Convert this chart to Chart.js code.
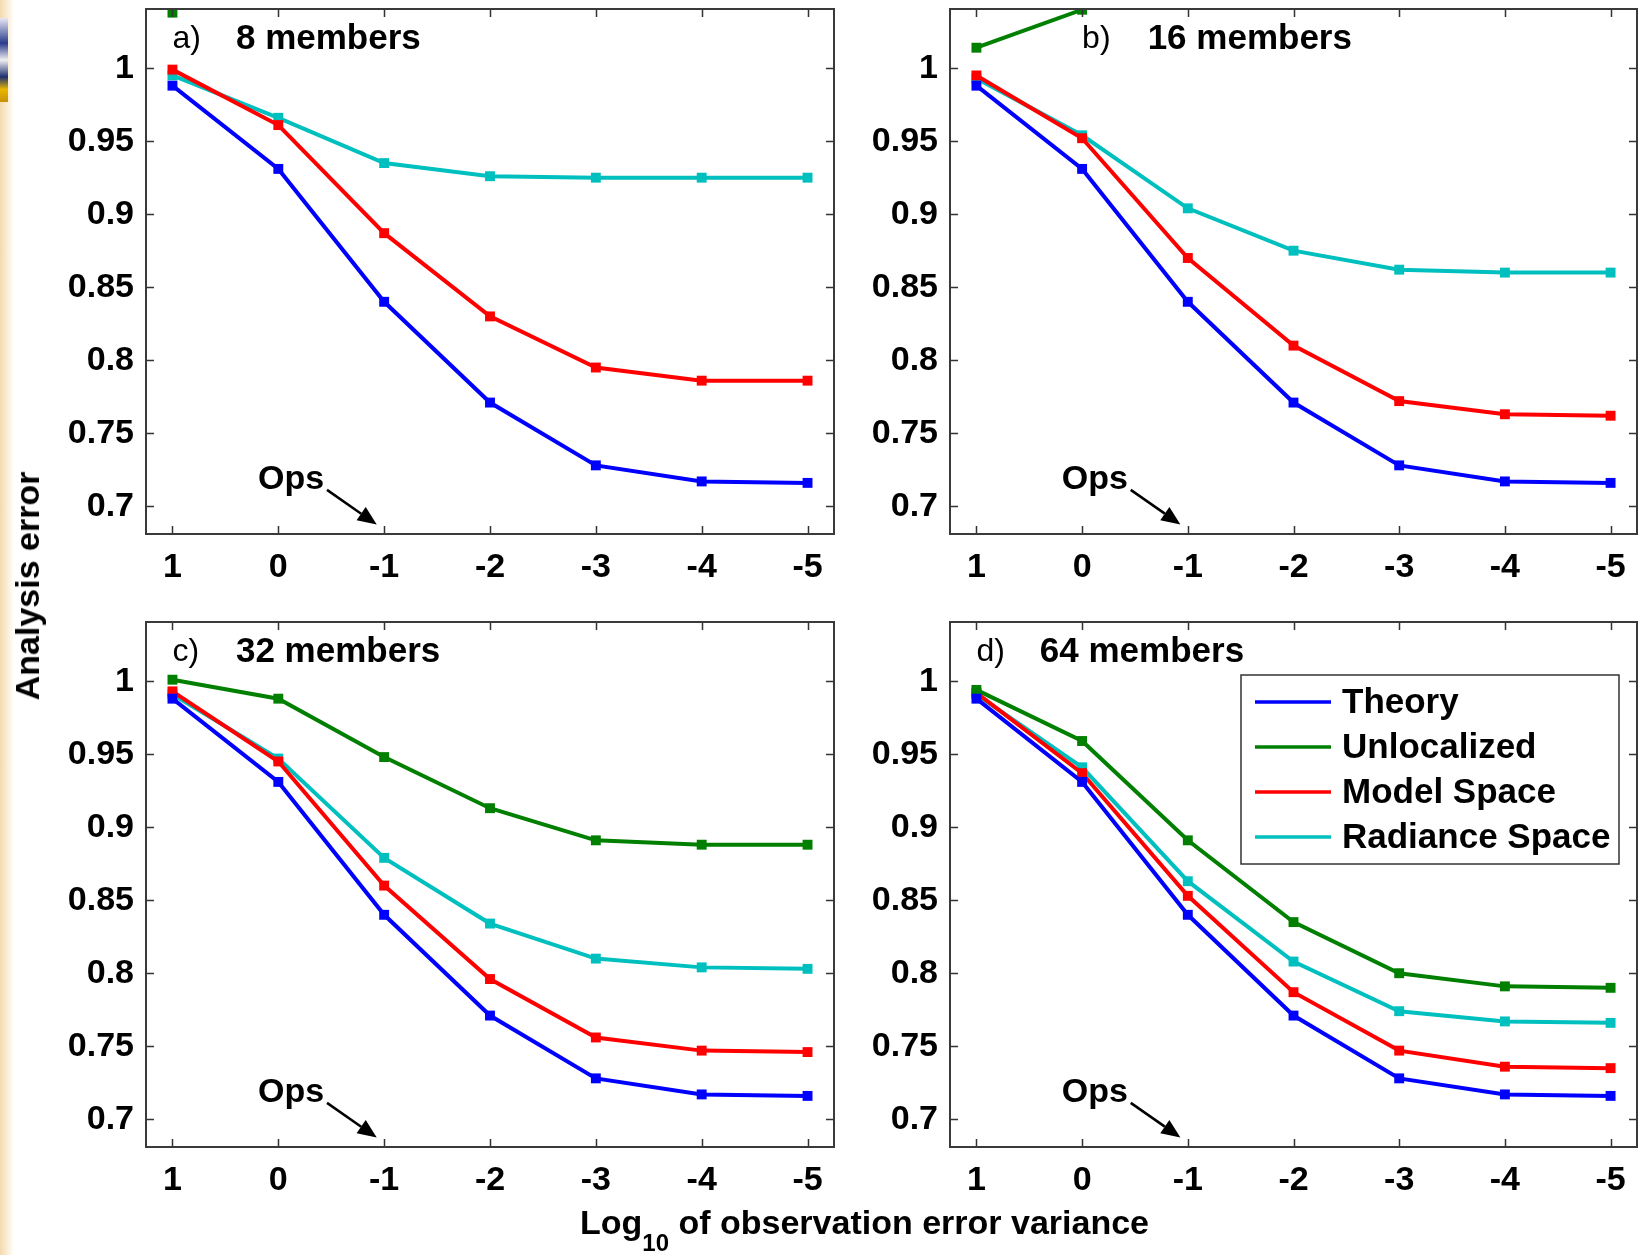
<!DOCTYPE html>
<html><head><meta charset="utf-8">
<script src="https://cdn.jsdelivr.net/npm/chart.js@4.4.1/dist/chart.umd.min.js"></script>
<style>
html,body{margin:0;padding:0;background:#fff;width:1639px;height:1255px;overflow:hidden;position:relative;font-family:'Liberation Sans',Arial,sans-serif;}
canvas{position:absolute;}
#strip{position:absolute;left:0;top:0;width:14px;height:1255px;background:linear-gradient(to right,#f3d9ad 0,#fbecd5 7px,#ffffff 14px);}
#blob{position:absolute;left:0;top:18px;width:8px;height:84px;background:linear-gradient(to bottom,#e8e8f4 0,#2a3c8c 30%,#f0f0f0 50%,#203070 70%,#e8b800 85%,#c89000 100%);}
#ylab{position:absolute;left:27px;top:586px;transform:translate(-50%,-50%) rotate(-90deg);font-weight:bold;font-size:34px;white-space:nowrap;line-height:34px;}
#xlab{position:absolute;left:580px;top:1205px;font-weight:bold;font-size:34px;white-space:nowrap;line-height:34px;}
#xlab span{font-size:24px;vertical-align:-17px;}
</style>
</head><body>
<div id="strip"></div><div id="blob"></div>
<canvas id="ca" width="880" height="600" style="left:0;top:0"></canvas>
<canvas id="cb" width="835" height="600" style="left:804px;top:0"></canvas>
<canvas id="cc" width="880" height="620" style="left:0;top:590px"></canvas>
<canvas id="cd" width="835" height="620" style="left:804px;top:590px"></canvas>
<div id="ylab">Analysis error</div>
<div id="xlab">Log<span>10</span> of observation error variance</div>
<script>
// ---- data ----
const logVar = [1, 0, -1, -2, -3, -4, -5];
const xTickValues = [1, 0, -1, -2, -3, -4, -5];
const yTickValues = [0.7, 0.75, 0.8, 0.85, 0.9, 0.95, 1];
const seriesNames = ['Theory', 'Unlocalized', 'Model Space', 'Radiance Space'];

const theory = [0.988, 0.931, 0.840, 0.771, 0.728, 0.717, 0.716];

const unlocalized8  = [1.038, null, null, null, null, null, null];
const model8        = [0.999, 0.961, 0.887, 0.830, 0.795, 0.786, 0.786];
const radiance8     = [0.995, 0.966, 0.935, 0.926, 0.925, 0.925, 0.925];

const unlocalized16 = [1.014, 1.040, null, null, null, null, null];
const model16       = [0.995, 0.952, 0.870, 0.810, 0.772, 0.763, 0.762];
const radiance16    = [0.993, 0.954, 0.904, 0.875, 0.862, 0.860, 0.860];

const unlocalized32 = [1.001, 0.988, 0.948, 0.913, 0.891, 0.888, 0.888];
const model32       = [0.993, 0.945, 0.860, 0.796, 0.756, 0.747, 0.746];
const radiance32    = [0.991, 0.947, 0.879, 0.834, 0.810, 0.804, 0.803];

const unlocalized64 = [0.994, 0.959, 0.891, 0.835, 0.800, 0.791, 0.790];
const model64       = [0.992, 0.937, 0.853, 0.787, 0.747, 0.736, 0.735];
const radiance64    = [0.991, 0.941, 0.863, 0.808, 0.774, 0.767, 0.766];

const panelLetters = ['a)', 'b)', 'c)', 'd)'];
const panelTitles = ['8 members', '16 members', '32 members', '64 members'];

// ---- styles ----
const colors = ['#0000FF', '#007F00', '#FF0000', '#00BFBF'];
const FONT = "'Liberation Sans', Arial, sans-serif";

function pts(vals){ return logVar.map((x,i)=>({x:x, y:vals[i]})); }

const deco = {
  id:'deco',
  afterDatasetsDraw(chart, args, o){
    const ctx = chart.ctx, a = chart.chartArea, x = chart.scales.x, y = chart.scales.y;
    ctx.save();
    // inward ticks
    ctx.strokeStyle = '#333'; ctx.lineWidth = 1.5;
    const tl = 8;
    ctx.beginPath();
    x.ticks.forEach(t=>{ const px = Math.round(x.getPixelForValue(t.value))+0.5;
      ctx.moveTo(px,a.bottom); ctx.lineTo(px,a.bottom-tl); ctx.moveTo(px,a.top); ctx.lineTo(px,a.top+tl); });
    y.ticks.forEach(t=>{ const py = Math.round(y.getPixelForValue(t.value))+0.5;
      ctx.moveTo(a.left,py); ctx.lineTo(a.left+tl,py); ctx.moveTo(a.right,py); ctx.lineTo(a.right-tl,py); });
    ctx.stroke();
    ctx.lineWidth = 2; ctx.strokeStyle = '#3a3a3a';
    ctx.strokeRect(a.left, a.top, a.right-a.left, a.bottom-a.top);
    // panel title
    ctx.fillStyle = '#000'; ctx.textBaseline = 'middle'; ctx.textAlign = 'left';
    const ty = y.getPixelForValue(1.0195);
    ctx.font = '32px ' + FONT;
    ctx.fillText(o.letter, x.getPixelForValue(o.letterX), ty);
    ctx.font = 'bold 35px ' + FONT;
    ctx.fillText(o.title, x.getPixelForValue(o.titleX), ty);
    // Ops annotation
    ctx.font = 'bold 34px ' + FONT; ctx.textAlign = 'center';
    ctx.fillText('Ops', x.getPixelForValue(-0.12), y.getPixelForValue(0.7185));
    const x1 = x.getPixelForValue(-0.46), y1 = y.getPixelForValue(0.7112);
    const x2 = x.getPixelForValue(-0.93), y2 = y.getPixelForValue(0.6875);
    const ang = Math.atan2(y2-y1, x2-x1), hl = 19, hw = 8;
    const bx = x2 - hl*Math.cos(ang), by = y2 - hl*Math.sin(ang);
    ctx.strokeStyle = '#000'; ctx.lineWidth = 2.5;
    ctx.beginPath(); ctx.moveTo(x1,y1); ctx.lineTo(bx,by); ctx.stroke();
    ctx.beginPath(); ctx.moveTo(x2,y2);
    ctx.lineTo(bx + hw*Math.sin(ang), by - hw*Math.cos(ang));
    ctx.lineTo(bx - hw*Math.sin(ang), by + hw*Math.cos(ang));
    ctx.closePath(); ctx.fillStyle = '#000'; ctx.fill();
    // legend
    if (o.legend) {
      const bw = 378, bh = 189;
      const L = a.right - 18 - bw, T = a.top + 53;
      ctx.fillStyle = '#fff'; ctx.fillRect(L, T, bw, bh);
      ctx.strokeStyle = '#333'; ctx.lineWidth = 1.5; ctx.strokeRect(L, T, bw, bh);
      ctx.font = 'bold 35px ' + FONT; ctx.textAlign = 'left'; ctx.textBaseline = 'middle';
      chart.data.datasets.forEach((ds, i)=>{
        const ry = T + 27 + i*45;
        ctx.strokeStyle = ds.borderColor; ctx.lineWidth = 3.5;
        ctx.beginPath(); ctx.moveTo(L+14, ry); ctx.lineTo(L+90, ry); ctx.stroke();
        ctx.fillStyle = '#000'; ctx.fillText(ds.label, L+101, ry+1);
      });
    }
    ctx.restore();
  }
};

function makeChart(id, series, idx, opts){
  const datasets = series.map((vals,i)=>({
    label: seriesNames[i], data: pts(vals),
    borderColor: colors[i], backgroundColor: colors[i],
    borderWidth: 4, pointStyle: 'rect', pointRadius: 7, pointHoverRadius: 7,
    pointBorderWidth: 0, spanGaps: false, tension: 0
  }));
  return new Chart(document.getElementById(id), {
    type: 'line',
    data: { datasets },
    plugins: [deco],
    options: {
      responsive: false, animation: false, devicePixelRatio: 1,
      layout: { autoPadding: false, padding: { left: 0, top: opts.top, right: opts.right, bottom: 0 } },
      plugins: { legend: { display: false }, tooltip: { enabled: false },
        deco: { letter: panelLetters[idx], title: panelTitles[idx], letterX: opts.letterX, titleX: opts.titleX, legend: !!opts.legend } },
      scales: {
        x: { type: 'linear', reverse: true, min: -5.25, max: 1.25,
          grid: { display: false, drawTicks: false }, border: { display: false },
          afterBuildTicks: s => { s.ticks = xTickValues.map(v=>({value:v})); },
          afterFit: s => { s.height = opts.xh; s.paddingLeft = 0; s.paddingRight = 0; },
          ticks: { color: '#000', padding: 13, font: { family: FONT, size: 34, weight: 'bold' },
            callback: v => String(v), maxRotation: 0, autoSkip: false } },
        y: { type: 'linear', min: 0.681, max: 1.0405,
          grid: { display: false, drawTicks: false }, border: { display: false },
          afterBuildTicks: s => { s.ticks = yTickValues.map(v=>({value:v})); },
          afterFit: s => { s.width = 146; s.paddingTop = 0; s.paddingBottom = 0; },
          ticks: { color: '#000', padding: 12, font: { family: FONT, size: 34, weight: 'bold' },
            callback: v => String(Number(v.toFixed(2))), autoSkip: false } }
      }
    }
  });
}

makeChart('ca', [theory, unlocalized8, model8, radiance8], 0, {top: 9, right: 46, xh: 66, letterX: 1.0, titleX: 0.4});
makeChart('cb', [theory, unlocalized16, model16, radiance16], 1, {top: 9, right: 2, xh: 66, letterX: 0.0, titleX: -0.62});
makeChart('cc', [theory, unlocalized32, model32, radiance32], 2, {top: 32, right: 46, xh: 63, letterX: 1.0, titleX: 0.4});
makeChart('cd', [theory, unlocalized64, model64, radiance64], 3, {top: 32, right: 2, xh: 63, letterX: 1.0, titleX: 0.4, legend: true});
</script>
</body></html>
